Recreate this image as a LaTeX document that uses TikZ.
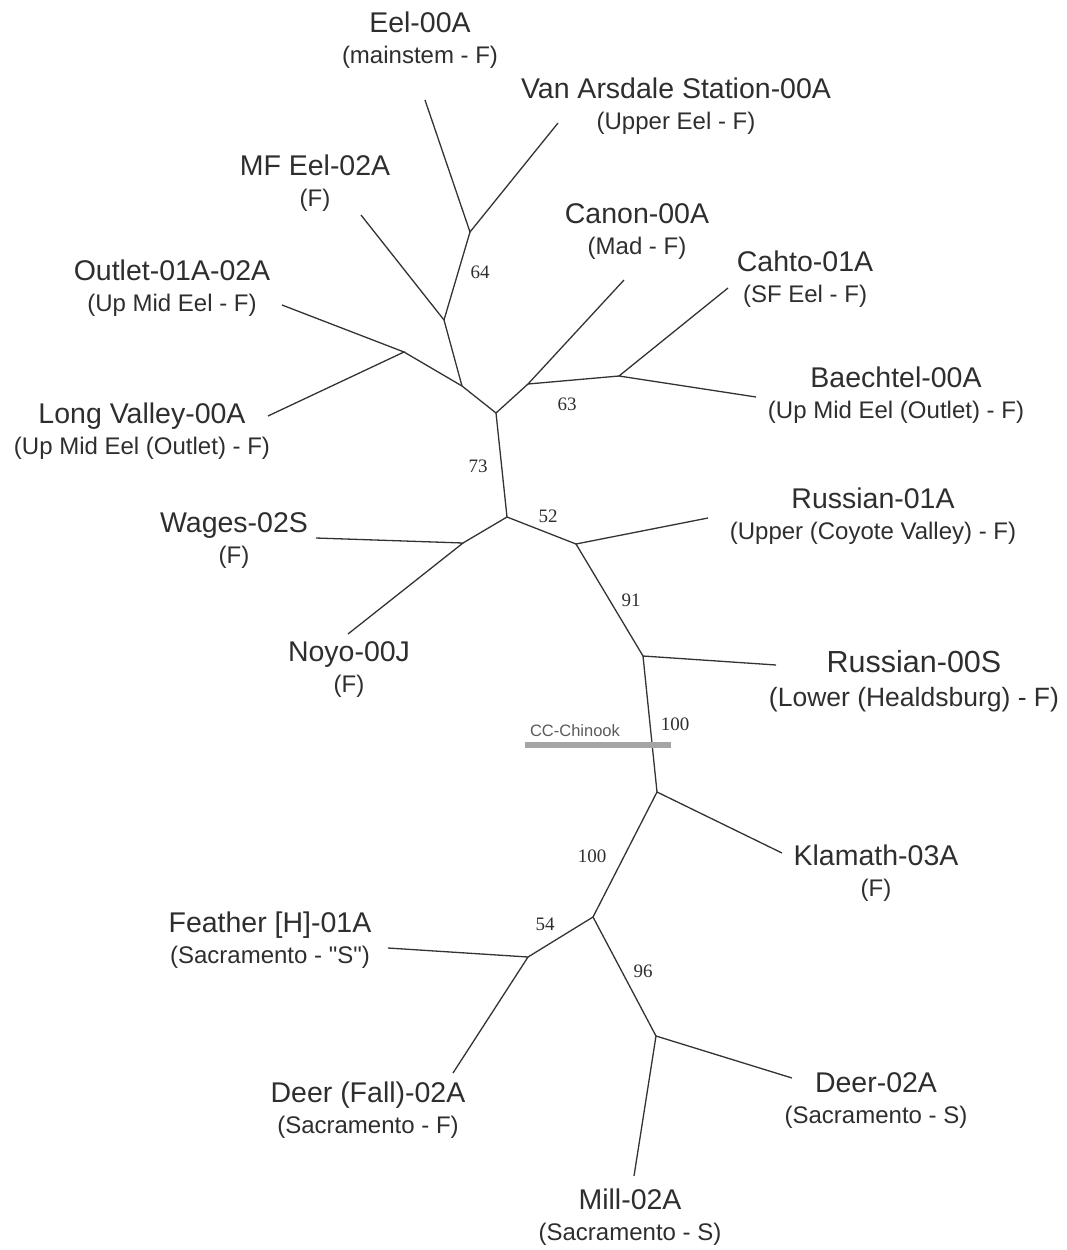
\documentclass[tikz,border=0pt]{standalone}
\usepackage{fontspec}
\setmainfont{Liberation Sans}
\newfontfamily\plainsans{Liberation Sans}[Ligatures=TeXOff]
\newfontfamily\numfont{Liberation Serif}
\usetikzlibrary{calc}
\definecolor{ink}{HTML}{2E2E2E}
\definecolor{branch}{HTML}{333333}
\definecolor{bargray}{HTML}{A5A5A5}
\definecolor{bartext}{HTML}{5A5A5A}

\newcommand{\leafsub}[1]{{\fontsize{24}{31}\selectfont #1}}
\newcommand{\bigsub}[1]{{\fontsize{26.5}{34}\selectfont #1}}

\tikzset{
  leaf/.style={text=ink, align=center, inner sep=0pt, font=\fontsize{28.5}{31}\selectfont},
  bigleaf/.style={leaf, font=\fontsize{30.5}{34}\selectfont},
  boot/.style={text=ink, inner sep=0pt, font=\numfont\fontsize{19}{19}\selectfont},
  edge/.style={branch, line width=1.3pt},
}

\begin{document}
\begin{tikzpicture}[x=1pt, y=-1pt]

\useasboundingbox (0,0) rectangle (1067,1250);

% Internal nodes of the tree
\coordinate (n64) at (470,232);
\coordinate (nA) at (444,320);
\coordinate (nB) at (404,352);
\coordinate (nC) at (462,386);
\coordinate (nD) at (619,376);
\coordinate (nE) at (528,384);
\coordinate (nF) at (496,413);
\coordinate (nG) at (507,517);
\coordinate (nH) at (463,543);
\coordinate (nI) at (576,544);
\coordinate (nJ) at (643,656);
\coordinate (nK) at (657,792);
\coordinate (nL) at (593,917);
\coordinate (nM) at (528,957);
\coordinate (nN) at (656,1036);

% Tips of the branches
\coordinate (eelE) at (425,100);
\coordinate (vanE) at (558,123);
\coordinate (mfeelE) at (361,215);
\coordinate (outletE) at (282,305);
\coordinate (longE) at (268,416);
\coordinate (canonE) at (624,280);
\coordinate (cahtoE) at (728,288);
\coordinate (baechE) at (756,397);
\coordinate (wagesE) at (316,538);
\coordinate (noyoE) at (348,634);
\coordinate (rus1E) at (708,518);
\coordinate (rus0E) at (776,665);
\coordinate (klamE) at (782,853);
\coordinate (featherE) at (388,948);
\coordinate (deerfE) at (453,1073);
\coordinate (deerE) at (792,1078);
\coordinate (millE) at (634,1176);

% --- Branches ---
\draw[edge] (eelE) -- (n64) -- (vanE);
\draw[edge] (n64) -- (nA);
\draw[edge] (mfeelE) -- (nA) -- (nC);
\draw[edge] (outletE) -- (nB) -- (longE);
\draw[edge] (nB) -- (nC) -- (nF);
\draw[edge] (cahtoE) -- (nD) -- (baechE);
\draw[edge] (nD) -- (nE);
\draw[edge] (canonE) -- (nE) -- (nF);
\draw[edge] (nF) -- (nG);
\draw[edge] (wagesE) -- (nH) -- (noyoE);
\draw[edge] (nH) -- (nG) -- (nI);
\draw[edge] (rus1E) -- (nI) -- (nJ);
\draw[edge] (rus0E) -- (nJ) -- (nK);
\draw[edge] (klamE) -- (nK) -- (nL);
\draw[edge] (nL) -- (nM);
\draw[edge] (featherE) -- (nM) -- (deerfE);
\draw[edge] (nL) -- (nN);
\draw[edge] (deerE) -- (nN) -- (millE);

% --- CC-Chinook bar ---
\coordinate (barL) at (525,745);
\coordinate (barR) at (671,745);
\draw[bargray, line width=6pt] (barL) -- (barR);
\node[text=bartext, inner sep=0pt, font=\fontsize{16.5}{18}\selectfont] (ccchinook) at (575,731) {CC-Chinook};

% --- Bootstrap values ---
\node[boot] (b64) at (480,272) {64};
\node[boot] (b63) at (567,404) {63};
\node[boot] (b73) at (478,466) {73};
\node[boot] (b52) at (548,516) {52};
\node[boot] (b91) at (631,600) {91};
\node[boot] (b100a) at (675,724) {100};
\node[boot] (b100b) at (592,856) {100};
\node[boot] (b54) at (545,924) {54};
\node[boot] (b96) at (643,971) {96};

% --- Population labels ---
\node[leaf] (eel) at (420,40) {Eel-00A\\\leafsub{(mainstem - F)}};
\node[leaf] (vanarsdale) at (676,106) {Van Arsdale Station-00A\\\leafsub{(Upper Eel - F)}};
\node[leaf] (mfeel) at (315,183) {MF Eel-02A\\\leafsub{(F)}};
\node[leaf] (canon) at (637,232) {Canon-00A\\\leafsub{(Mad - F)}};
\node[leaf] (outlet) at (172,288) {Outlet-01A-02A\\\leafsub{(Up Mid Eel - F)}};
\node[leaf] (cahto) at (805,279) {Cahto-01A\\\leafsub{(SF Eel - F)}};
\node[leaf] (baechtel) at (896,395) {Baechtel-00A\\\leafsub{(Up Mid Eel (Outlet) - F)}};
\node[leaf] (longvalley) at (142,431) {Long Valley-00A\\\leafsub{(Up Mid Eel (Outlet) - F)}};
\node[leaf] (russian1) at (873,516) {Russian-01A\\\leafsub{(Upper (Coyote Valley) - F)}};
\node[leaf] (wages) at (234,541) {Wages-02S\\\leafsub{(F)}};
\node[leaf] (noyo) at (349,670) {Noyo-00J\\\leafsub{(F)}};
\node[bigleaf] (russian0) at (914,681) {Russian-00S\\\bigsub{(Lower (Healdsburg) - F)}};
\node[leaf] (klamath) at (876,873) {Klamath-03A\\\leafsub{(F)}};
\node[leaf] (feather) at (270,940) {Feather [H]-01A\\\leafsub{(Sacramento - {\plainsans "S"})}};
\node[leaf] (deerfall) at (368,1110) {Deer (Fall)-02A\\\leafsub{(Sacramento - F)}};
\node[leaf] (deer) at (876,1101) {Deer-02A\\\leafsub{(Sacramento - S)}};
\node[leaf] (mill) at (630,1217) {Mill-02A\\\leafsub{(Sacramento - S)}};

\end{tikzpicture}
\end{document}
